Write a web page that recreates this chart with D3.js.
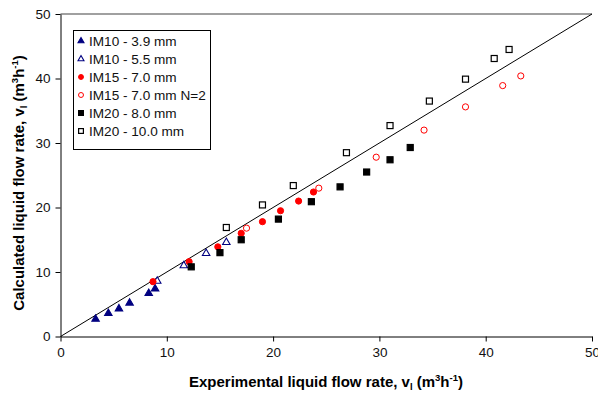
<!DOCTYPE html>
<html>
<head>
<meta charset="utf-8">
<script src="https://cdn.jsdelivr.net/npm/d3@7"></script>
<style>
  body { margin: 0; background: #fff; }
  text { font-family: "Liberation Sans", Arial, sans-serif; }
</style>
</head>
<body>
<script>
// values
var im10a = [[3.3,2.7],[4.5,3.6],[5.5,4.3],[6.5,5.2],[8.3,6.7],[8.9,7.4]];
var im10b = [[9.1,8.6],[11.6,11.0],[13.7,12.9],[15.6,14.6]];
var im15 = [[8.7,8.5],[12.1,11.6],[14.8,13.9],[17.0,16.0],[19.0,17.8],[20.7,19.5],[22.4,21.0],[23.8,22.4]];
var im15n2 = [[17.5,16.8],[24.3,23.0],[29.7,27.8],[34.2,32.0],[38.1,35.6],[41.6,38.9],[43.3,40.4]];
var im20a = [[12.3,10.8],[15.0,13.0],[17.0,15.0],[20.5,18.2],[23.6,20.9],[26.3,23.2],[28.8,25.5],[31.0,27.4],[32.9,29.3]];
var im20b = [[15.6,16.9],[19.0,20.4],[21.9,23.4],[26.9,28.5],[31.0,32.7],[34.7,36.5],[38.1,39.9],[40.8,43.1],[42.2,44.5]];
var seriesNames = ["IM10 - 3.9 mm","IM10 - 5.5 mm","IM15 - 7.0 mm","IM15 - 7.0 mm N=2","IM20 - 8.0 mm","IM20 - 10.0 mm"];
var ticks = [0,10,20,30,40,50];

var W = 598, H = 394;
var x = d3.scaleLinear().domain([0,50]).range([60.5,592]);
var y = d3.scaleLinear().domain([0,50]).range([336.5,14]);

var svg = d3.select("body").append("svg").attr("width", W).attr("height", H);

// plot frame top line
svg.append("line").attr("x1", x(0)).attr("x2", x(50)).attr("y1", y(50)).attr("y2", y(50))
   .attr("stroke", "#808080").attr("stroke-width", 1.5);

var xAxis = svg.append("g").attr("transform", "translate(0," + y(0) + ")")
  .call(d3.axisBottom(x).tickValues(ticks).tickSize(5).tickSizeOuter(0).tickPadding(6));
var yAxis = svg.append("g").attr("transform", "translate(" + x(0) + ",0)")
  .call(d3.axisLeft(y).tickValues(ticks).tickSize(5).tickSizeOuter(0).tickPadding(5));
[xAxis, yAxis].forEach(function(a) {
  a.selectAll("path,line").attr("stroke", "#000");
  a.selectAll("text").attr("font-size", 13.5).attr("fill", "#111")
   .attr("font-family", "Liberation Sans, Arial, sans-serif");
});

// 1:1 line
svg.append("line").attr("x1", x(0)).attr("y1", y(0)).attr("x2", x(50)).attr("y2", y(50))
   .attr("stroke", "#000").attr("stroke-width", 1);

var tri = d3.symbol().type(d3.symbolTriangle).size(24);

var series = [
  {data: im10a, shape: "tri", fill: "#000080", stroke: "#000080"},
  {data: im10b, shape: "tri", fill: "#fff", stroke: "#000080"},
  {data: im15, shape: "circ", fill: "#ff0000", stroke: "#ff0000"},
  {data: im15n2, shape: "circ", fill: "#fff", stroke: "#ff0000"},
  {data: im20a, shape: "sq", fill: "#000", stroke: "#000"},
  {data: im20b, shape: "sq", fill: "#fff", stroke: "#000"}
];

function drawMarker(g, s, cx, cy, k) {
  k = k || 1;
  if (s.shape === "tri") {
    g.append("path").attr("d", tri).attr("transform", "translate(" + cx + "," + cy + ") scale(" + k + ")")
     .attr("fill", s.fill).attr("stroke", s.stroke).attr("stroke-width", 1.1 / k);
  } else if (s.shape === "circ") {
    g.append("circle").attr("cx", cx).attr("cy", cy).attr("r", 3.1 * k)
     .attr("fill", s.fill).attr("stroke", s.stroke).attr("stroke-width", 1);
  } else {
    var h = 3 * k;
    g.append("rect").attr("x", cx - h).attr("y", cy - h).attr("width", 2 * h).attr("height", 2 * h)
     .attr("fill", s.fill).attr("stroke", s.stroke).attr("stroke-width", 1.2);
  }
}

series.forEach(function(s) {
  var g = svg.append("g");
  s.data.forEach(function(d) { drawMarker(g, s, x(d[0]), y(d[1])); });
});

// legend
var lg = svg.append("g");
lg.append("rect").attr("x", 73.5).attr("y", 30.5).attr("width", 137).attr("height", 119)
  .attr("fill", "#fff").attr("stroke", "#000").attr("stroke-width", 1);
seriesNames.forEach(function(n, i) {
  var cy = 41 + i * 18;
  drawMarker(lg, series[i], 81, cy, 0.8);
  lg.append("text").attr("x", 89).attr("y", cy + 5).attr("font-size", 13.6).attr("fill", "#111").text(n);
});

// axis titles
function title(t) {
  t.append("tspan").text("Calculated liquid flow rate, v");
}
var xt = svg.append("text").attr("x", 326).attr("y", 387).attr("text-anchor", "middle")
  .attr("font-size", 15).attr("font-weight", "bold");
xt.append("tspan").text("Experimental liquid flow rate, v");
xt.append("tspan").attr("font-size", 9.5).attr("dy", 3).text("l");
xt.append("tspan").attr("dy", -3).text(" (m");
xt.append("tspan").attr("font-size", 9.5).attr("dy", -6).text("3");
xt.append("tspan").attr("dy", 6).text("h");
xt.append("tspan").attr("font-size", 9.5).attr("dy", -6).text("-1");
xt.append("tspan").attr("dy", 6).text(")");

var yt = svg.append("text").attr("transform", "translate(24,183) rotate(-90)")
  .attr("text-anchor", "middle").attr("font-size", 15).attr("font-weight", "bold");
yt.append("tspan").text("Calculated liquid flow rate, v");
yt.append("tspan").attr("font-size", 9.5).attr("dy", 3).text("l");
yt.append("tspan").attr("dy", -3).text(" (m");
yt.append("tspan").attr("font-size", 9.5).attr("dy", -6).text("3");
yt.append("tspan").attr("dy", 6).text("h");
yt.append("tspan").attr("font-size", 9.5).attr("dy", -6).text("-1");
yt.append("tspan").attr("dy", 6).text(")");
</script>
</body>
</html>
